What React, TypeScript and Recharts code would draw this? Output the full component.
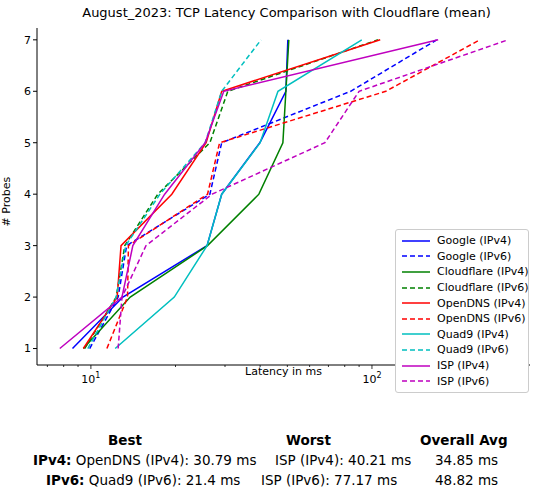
import { LineChart, Line, XAxis, YAxis } from "recharts";

document.body.style.margin = "0";

const probes = [1, 2, 3, 4, 5, 6, 7];
const googleV4 = [8.6, 13.0, 25.9, 29.2, 39.9, 49.4, 50.2];
const googleV6 = [9.9, 12.5, 13.4, 26.5, 29.2, 84, 170];
const cloudflareV4 = [9.4, 13.8, 26.0, 39.6, 48.2, 49.4, 50.6];
const cloudflareV6 = [9.5, 12.3, 13.2, 17.3, 26.5, 30.7, 105];
const openDnsV4 = [9.4, 12.4, 12.8, 19.4, 25.7, 29.2, 107];
const openDnsV6 = [11.4, 13.5, 13.6, 26.0, 28.7, 112, 242];
const quad9V4 = [12.2, 19.8, 25.9, 29.2, 40.0, 46.3, 92];
const quad9V6 = [9.75, 12.3, 13.3, 17.6, 25.5, 29.2, 40.3];
const ispV4 = [7.75, 12.9, 14.1, 18.3, 25.5, 29.7, 172];
const ispV6 = [12.5, 12.9, 15.7, 27.0, 68, 90, 305];

const series = [
  { name: "Google (IPv4)", vals: googleV4, color: "#0000ff", dash: false },
  { name: "Google (IPv6)", vals: googleV6, color: "#0000ff", dash: true },
  { name: "Cloudflare (IPv4)", vals: cloudflareV4, color: "#008000", dash: false },
  { name: "Cloudflare (IPv6)", vals: cloudflareV6, color: "#008000", dash: true },
  { name: "OpenDNS (IPv4)", vals: openDnsV4, color: "#ff0000", dash: false },
  { name: "OpenDNS (IPv6)", vals: openDnsV6, color: "#ff0000", dash: true },
  { name: "Quad9 (IPv4)", vals: quad9V4, color: "#00bfbf", dash: false },
  { name: "Quad9 (IPv6)", vals: quad9V6, color: "#00bfbf", dash: true },
  { name: "ISP (IPv4)", vals: ispV4, color: "#bf00bf", dash: false },
  { name: "ISP (IPv6)", vals: ispV6, color: "#bf00bf", dash: true },
];

const xTicks = [7, 8, 9, 10, 20, 30, 40, 50, 60, 70, 80, 90, 100, 200, 300];
const majorLabels: Record<number, string> = { 10: "1", 100: "2" };

const XTick = (props: any) => {
  const { x, y, payload } = props;
  const exp = majorLabels[payload.value];
  return (
    <g>
      <line x1={x} x2={x} y1={y - 8} y2={y - 8 + (exp ? 4 : 2)} stroke="#000" strokeWidth={0.8} />
      {exp && (
        <text x={x} y={y + 10} textAnchor="middle" fontSize={11} fill="#000">
          10<tspan dy={-5} fontSize={8}>{exp}</tspan>
        </text>
      )}
    </g>
  );
};

const row = { position: "absolute" as const, fontSize: 13.5, whiteSpace: "nowrap" as const };

export default function App() {
  return (
    <div style={{ position: "relative", width: 541, height: 494, fontFamily: "DejaVu Sans", background: "#fff" }}>
      <div style={{ position: "absolute", top: 5, width: 541, left: 16, textAlign: "center", fontSize: 13 }}>
        August_2023: TCP Latency Comparison with Cloudflare (mean)
      </div>
      <LineChart width={541} height={440} margin={{ top: 28, right: 11, left: 0, bottom: 45 }}>
        <XAxis
          type="number"
          dataKey="x"
          scale="log"
          domain={[6.43, 365]}
          allowDataOverflow
          ticks={xTicks}
          interval={0}
          tick={<XTick />}
          tickLine={false}
          stroke="#000"
          label={{ value: "Latency in ms", position: "insideBottom", offset: 20, fontSize: 11, fill: "#000" }}
        />
        <YAxis
          type="number"
          dataKey="y"
          domain={[0.68, 7.23]}
          ticks={probes}
          width={37}
          stroke="#000"
          tick={{ fontSize: 11, fill: "#000" }}
          tickSize={4}
          label={{ value: "# Probes", angle: -90, position: "insideLeft", offset: 6, dy: 30, fontSize: 11, fill: "#000" }}
        />
        <XAxis xAxisId="top" orientation="top" type="number" dataKey="x" scale="log" domain={[6.43, 365]} allowDataOverflow tick={false} tickLine={false} stroke="#000" height={0} />
        <YAxis yAxisId="right" orientation="right" type="number" domain={[0.68, 7.23]} tick={false} tickLine={false} stroke="#000" width={0} />
        {series.map((s) => (
          <Line
            key={s.name}
            name={s.name}
            data={s.vals.map((v, i) => ({ x: v, y: probes[i] }))}
            dataKey="y"
            stroke={s.color}
            strokeWidth={1.5}
            strokeDasharray={s.dash ? "5 3" : undefined}
            dot={false}
            isAnimationActive={false}
          />
        ))}
      </LineChart>
      <div style={{ position: "absolute", left: 395, top: 229, width: 120, background: "#fff", border: "1px solid #ccc", borderRadius: 3, padding: "3px 6px", fontSize: 11 }}>
        {series.map((s) => (
          <div key={s.name} style={{ display: "flex", alignItems: "center", height: 15.6, whiteSpace: "nowrap" }}>
            <svg width={28} height={8} style={{ marginRight: 7, flexShrink: 0 }}>
              <line x1={0} x2={28} y1={4} y2={4} stroke={s.color} strokeWidth={1.5} strokeDasharray={s.dash ? "5 3" : undefined} />
            </svg>
            {s.name}
          </div>
        ))}
      </div>
      <div style={{ ...row, top: 432, left: 108, fontWeight: "bold" }}>Best</div>
      <div style={{ ...row, top: 432, left: 286, fontWeight: "bold" }}>Worst</div>
      <div style={{ ...row, top: 432, left: 420, fontWeight: "bold" }}>Overall Avg</div>
      <div style={{ ...row, top: 452, left: 33 }}><b>IPv4:</b> OpenDNS (IPv4): 30.79 ms</div>
      <div style={{ ...row, top: 452, left: 275 }}>ISP (IPv4): 40.21 ms</div>
      <div style={{ ...row, top: 452, left: 435 }}>34.85 ms</div>
      <div style={{ ...row, top: 472, left: 46 }}><b>IPv6:</b> Quad9 (IPv6): 21.4 ms</div>
      <div style={{ ...row, top: 472, left: 261 }}>ISP (IPv6): 77.17 ms</div>
      <div style={{ ...row, top: 472, left: 435 }}>48.82 ms</div>
    </div>
  );
}
